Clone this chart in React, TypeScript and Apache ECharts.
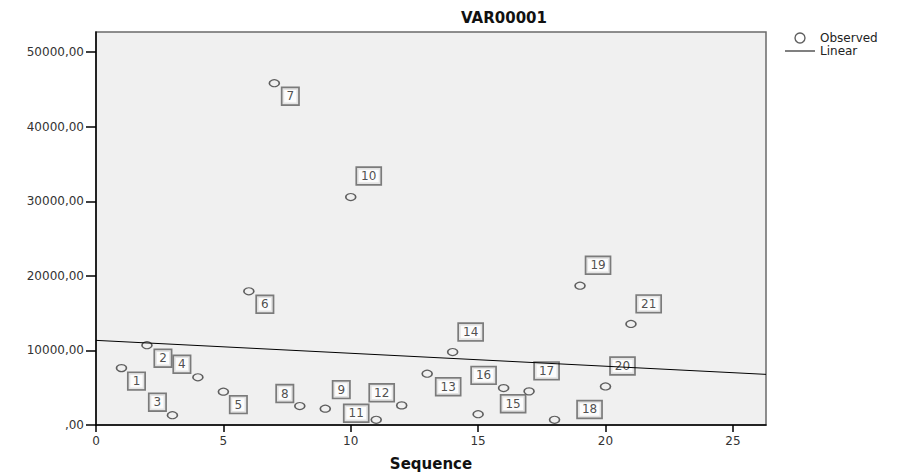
import React, { useEffect, useRef } from "react";
import * as echarts from "echarts";

// Case sequence numbers and observed values of VAR00001
const sequence = [1, 2, 3, 4, 5, 6, 7, 8, 9, 10, 11, 12, 13, 14, 15, 16, 17, 18, 19, 20, 21];
const observed = [
  7630, 10700, 1316, 6400, 4470, 17930, 45830, 2540, 2190, 30570, 700,
  2630, 6880, 9780, 1450, 4950, 4510, 700, 18680, 5170, 13550,
];
const caseLabels = [
  "1", "2", "3", "4", "5", "6", "7", "8", "9", "10", "11",
  "12", "13", "14", "15", "16", "17", "18", "19", "20", "21",
];

// Linear fit line (x at the plot's ends)
const linearX = [0, 26.3];
const linearY = [11350, 6790];

// Axis ticks
const xTickValues = [0, 5, 10, 15, 20, 25];
const yTickValues = [0, 10000, 20000, 30000, 40000, 50000];

// Label box placement relative to each point (layout, pixels)
const labelOffsets: [number, number][] = [
  [15, 13], [16, 13], [-15, -13], [-16, -13], [15, 13], [16, 13], [16, 13],
  [-15, -12.5], [16, -19], [18, -21], [-20, -6.5], [-20, -12.6], [21, 13],
  [18, -20], [35, -10.5], [-20, -12.7], [17.5, -20.5], [35, -10.3],
  [18, -20.4], [17, -20.5], [17.7, -20.1],
];

const FONT = "DejaVu Sans";

export default function App() {
  const ref = useRef<HTMLDivElement>(null);

  useEffect(() => {
    if (!ref.current) return;
    const chart = echarts.init(ref.current, undefined, { renderer: "svg" });

    const option = {
      animation: false,
      backgroundColor: "#ffffff",
      title: {
        text: "VAR00001",
        left: 504,
        textAlign: "center",
        top: 10,
        padding: 0,
        textStyle: { fontFamily: FONT, fontSize: 15, fontWeight: "bold", color: "#111" },
      },
      legend: {
        orient: "vertical",
        left: 785,
        top: 32,
        padding: 0,
        itemWidth: 30,
        itemHeight: 10,
        itemGap: 1,
        selectedMode: false,
        textStyle: { fontFamily: FONT, fontSize: 12, color: "#222" },
        data: [
          {
            name: "Observed",
            icon: "circle",
            itemStyle: { color: "rgba(0,0,0,0)", borderColor: "#3a3a3a", borderWidth: 1.4 },
          },
          {
            name: "Linear",
            icon: "path://M0,0 L30,0 L30,1 L0,1 Z",
            itemStyle: { color: "#000", borderWidth: 0 },
          },
        ],
      },
      grid: {
        left: 96,
        right: 134,
        top: 32,
        bottom: 44,
        show: true,
        backgroundColor: "#f0f0f0",
        borderColor: "#6a6a6a",
        borderWidth: 1.5,
      },
      xAxis: {
        type: "value",
        min: 0,
        max: 26.3,
        interval: 5,
        name: "Sequence",
        nameLocation: "middle",
        nameGap: 31,
        nameTextStyle: { fontFamily: FONT, fontSize: 15, fontWeight: "bold", color: "#111" },
        axisLine: { lineStyle: { color: "#000", width: 1.5 } },
        axisTick: { length: 7, customValues: xTickValues, lineStyle: { color: "#000", width: 1.5 } },
        axisLabel: {
          margin: 10,
          customValues: xTickValues,
          fontFamily: FONT,
          fontSize: 12,
          color: "#333",
        },
        splitLine: { show: false },
      },
      yAxis: {
        type: "value",
        min: 0,
        max: 52700,
        interval: 10000,
        axisLine: { show: true, lineStyle: { color: "#000", width: 1.5 } },
        axisTick: { show: true, length: 10, customValues: yTickValues, lineStyle: { color: "#000", width: 1.5 } },
        axisLabel: {
          margin: 12,
          customValues: yTickValues,
          fontFamily: FONT,
          fontSize: 12,
          color: "#333",
          formatter: (v: number) => (v === 0 ? ",00" : `${v},00`),
        },
        splitLine: { show: false },
      },
      series: [
        {
          name: "Observed",
          type: "scatter",
          symbol: "circle",
          symbolSize: [10, 7],
          z: 2,
          itemStyle: { color: "rgba(0,0,0,0)", borderColor: "#3a3a3a", borderWidth: 1.4 },
          label: {
            show: true,
            position: "inside",
            formatter: (p: any) => caseLabels[p.dataIndex],
            fontFamily: FONT,
            fontSize: 12,
            color: "#222",
            backgroundColor: "#ffffff",
            borderColor: "#5e5e5e",
            borderWidth: 1.7,
            padding: [2, 4],
          },
          data: sequence.map((s, i) => ({
            value: [s, observed[i]],
            label: { offset: labelOffsets[i] },
          })),
        },
        {
          name: "Linear",
          type: "line",
          symbol: "none",
          z: 3,
          itemStyle: { color: "#000" },
          lineStyle: { color: "#000", width: 1 },
          data: linearX.map((x, i) => [x, linearY[i]]),
        },
      ],
    };

    chart.setOption(option);
    return () => chart.dispose();
  }, []);

  return (
    <div
      ref={ref}
      style={{ position: "absolute", left: 0, top: 0, width: 900, height: 476 }}
    />
  );
}
